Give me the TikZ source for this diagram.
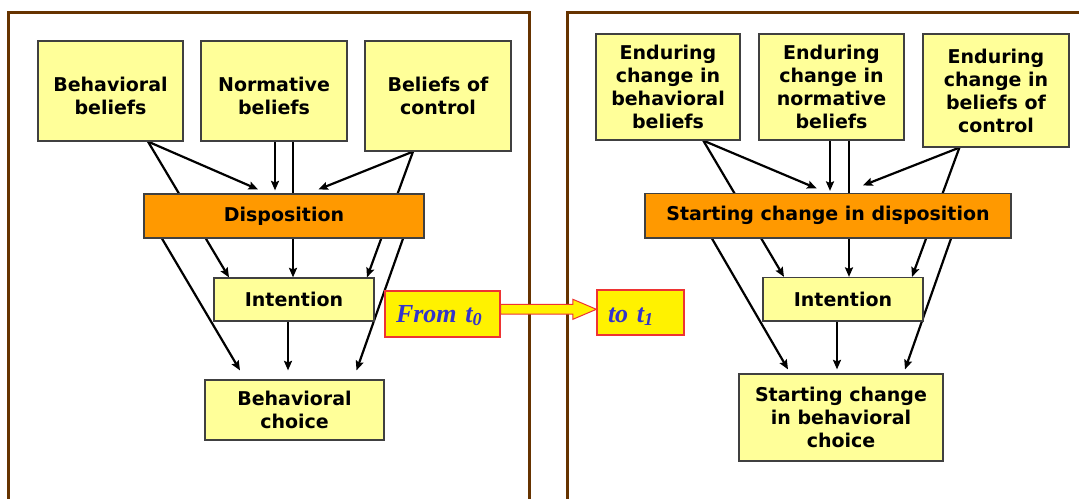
\documentclass[tikz,border=0pt]{standalone}
\usepackage{fontspec}
\setmainfont{DejaVu Sans}
\newfontfamily\tnr{Liberation Serif}
\usetikzlibrary{arrows.meta,calc}
\pgfdeclarelayer{back}
\pgfdeclarelayer{bg}
\pgfsetlayers{back,bg,main}
\definecolor{boxyellow}{HTML}{FFFF99}
\definecolor{boxorange}{HTML}{FF9900}
\definecolor{panelbrown}{HTML}{663300}
\definecolor{boxedge}{HTML}{404040}
\definecolor{tblue}{HTML}{3333CC}
\definecolor{tred}{HTML}{EE3333}
\tikzset{
  x=1pt,y=-1pt,
  basebox/.style={draw=boxedge,line width=1.2pt,align=center,inner sep=2pt,
    font=\fontsize{19}{23}\selectfont\bfseries},
  ybox/.style={basebox,fill=boxyellow},
  obox/.style={basebox,fill=boxorange},
  lowtext/.style={text height=46pt,text depth=0pt},
  tbox/.style={draw=tred,line width=1.2pt,fill=yellow,align=left,inner sep=0pt,
    text=tblue,font=\fontsize{26}{28}\selectfont\tnr\bfseries\itshape},
  conn/.style={line width=2.2pt,-{Stealth[length=9.5pt,width=8pt,inset=1.5pt]}},
  panel/.style={draw=panelbrown,line width=3pt},
  fat/.style={draw=tred,line width=1pt,fill=yellow}
}
\begin{document}
\begin{tikzpicture}
\useasboundingbox (0,0) rectangle (1079,498);
% panels
\begin{pgfonlayer}{back}
\draw[panel] (8.6,12.7) rectangle (529,520);
\draw[panel] (567.8,12.7) rectangle (1100,520);
\end{pgfonlayer}
% left nodes
\node[ybox,lowtext,minimum width=145,minimum height=100] (bb) at (110.5,91) {Behavioral\\beliefs};
\node[ybox,lowtext,minimum width=146,minimum height=100] (nb) at (274,91) {Normative\\beliefs};
\node[ybox,minimum width=146,minimum height=110] (bc) at (438,96) {Beliefs of\\control};
\node[obox,minimum width=280,minimum height=44] (disp) at (284,216) {Disposition};
\node[ybox,minimum width=160,minimum height=43] (int) at (294,299.5) {Intention};
\node[ybox,minimum width=179,minimum height=60] (ch) at (294.5,410) {Behavioral\\choice};
% right nodes
\node[ybox,minimum width=144,minimum height=106] (rb1) at (668,87) {Enduring\\change in\\behavioral\\beliefs};
\node[ybox,minimum width=145,minimum height=106] (rb2) at (831.5,87) {Enduring\\change in\\normative\\beliefs};
\node[ybox,minimum width=146,minimum height=113] (rb3) at (996,90.5) {Enduring\\change in\\beliefs of\\control};
\node[obox,minimum width=366,minimum height=44.5] (rdisp) at (828,215.75) {Starting change in disposition};
\node[ybox,minimum width=160,minimum height=43.5] (rint) at (843,299.25) {Intention};
\node[ybox,minimum width=204,minimum height=87] (rch) at (841,417.5) {Starting change\\in behavioral\\choice};
% time boxes
\node[tbox,minimum width=115,minimum height=46,text width=93,text height=18,text depth=2] (from) at (442.5,314) {From t\textsubscript{0}};
\node[tbox,minimum width=87,minimum height=45,text width=65,text height=20,text depth=1] (to) at (640.5,312.5) {to t\textsubscript{1}};
% fat arrow
\draw[fat] ($(from.east)+(0,-9.7)$) -- ++(72.3,0) -- ++(0,-5) -- ($(to.west)+(0,-3.2)$)
  -- ($(from.east)+(72.3,5.3)$) -- ++(0,-5.3) -- ($(from.east)+(0,0)$) -- cycle;
% connectors
\begin{pgfonlayer}{bg}
% left
\draw[conn] ($(bb.south)+(37.5,0)$) -- ($(disp.north)+(-26,-4)$);
\draw[conn] ($(bb.south)+(37.5,0)$) -- ($(int.north)+(-65,0)$);
\draw[conn] ($(nb.south)+(1,0)$) -- ($(disp.north)+(-9,-3)$);
\draw[conn] ($(nb.south)+(19,0)$) -- ($(int.north)+(-1,0)$);
\draw[conn] ($(bc.south)+(-25,0)$) -- ($(disp.north)+(34.5,-4)$);
\draw[conn] ($(bc.south)+(-25,0)$) -- ($(int.north)+(73,0)$);
\draw[conn] ($(disp.south)+(-122,0)$) -- ($(ch.north)+(-54.5,-9)$);
\draw[conn] ($(disp.south)+(119,0)$) -- ($(ch.north)+(62,-9)$);
\draw[conn] ($(int.south)+(-6,0)$) -- ($(ch.north)+(-6.5,-9)$);
% right
\draw[conn] ($(rb1.south)+(35.3,0)$) -- ($(rdisp.north)+(-11.3,-4.5)$);
\draw[conn] ($(rb1.south)+(35.3,0)$) -- ($(rint.north)+(-59,0)$);
\draw[conn] ($(rb2.south)+(-1.5,0)$) -- ($(rdisp.north)+(2,-2)$);
\draw[conn] ($(rb2.south)+(17.5,0)$) -- ($(rint.north)+(6,0)$);
\draw[conn] ($(rb3.south)+(-36.6,0)$) -- ($(rdisp.north)+(35,-7.5)$);
\draw[conn] ($(rb3.south)+(-36.6,0)$) -- ($(rint.north)+(69,0)$);
\draw[conn] ($(rdisp.south)+(-116,0)$) -- ($(rch.north)+(-53,-4)$);
\draw[conn] ($(rdisp.south)+(123,0)$) -- ($(rch.north)+(64,-4)$);
\draw[conn] ($(rint.south)+(-6,0)$) -- ($(rch.north)+(-4,-4)$);
\end{pgfonlayer}
\end{tikzpicture}
\end{document}
